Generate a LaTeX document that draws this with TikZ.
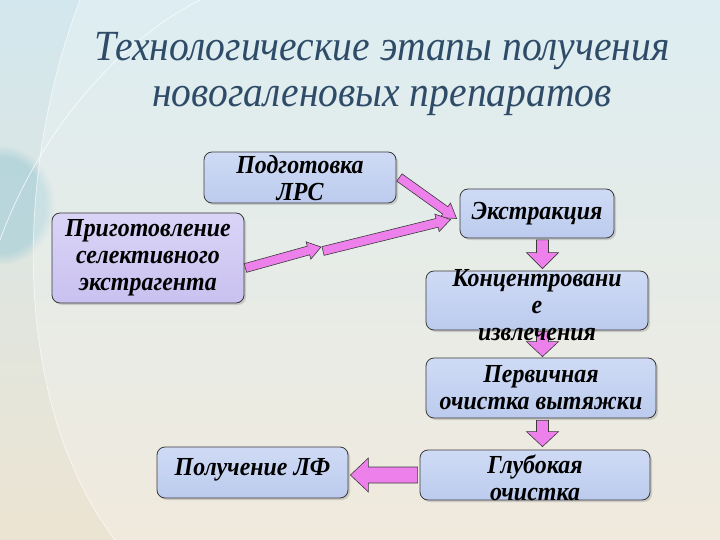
\documentclass[tikz,border=0pt]{standalone}
\usepackage{fontspec}
\setmainfont{Liberation Serif}
\newfontfamily\boxfont[FakeStretch=0.92]{Liberation Serif}
\newfontfamily\titlefont[FakeStretch=0.92]{Liberation Serif Italic}
\usetikzlibrary{calc,shadows,fadings}
\definecolor{titlec}{HTML}{2E4B68}
\definecolor{boxtop}{HTML}{CFDBF5}
\definecolor{boxbot}{HTML}{BCCBEE}
\definecolor{lavtop}{HTML}{DAD4F7}
\definecolor{lavbot}{HTML}{C9C1EF}
\definecolor{pinkarrow}{HTML}{EE80EC}
\definecolor{edgec}{HTML}{3A3A3A}
\definecolor{bgtop}{HTML}{D2E7EE}
\definecolor{bgmid}{HTML}{F3F3EE}
\definecolor{bgbot}{HTML}{ECE4D2}
\definecolor{tealc}{HTML}{8EC3D2}
\newcommand{\bkarrow}[5]{%
  \coordinate (bkh) at ($(#2)!#5!(#1)$);
  \draw[barrow] ($(#1)!#3!90:(#2)$) -- ($(bkh)!#3!-90:(#1)$) -- ($(bkh)!#4!-90:(#1)$) -- (#2) -- ($(bkh)!#4!90:(#1)$) -- ($(bkh)!#3!90:(#1)$) -- ($(#1)!#3!-90:(#2)$) -- cycle;}
\tikzset{
  stage/.style={draw=edgec, line width=0.8pt, rounded corners=8pt, top color=boxtop, bottom color=boxbot,
    drop shadow={shadow xshift=2pt, shadow yshift=-2pt, opacity=0.3}, inner sep=0pt},
  lavstage/.style={stage, top color=lavtop, bottom color=lavbot},
  stagetext/.style={align=center, inner sep=0pt, font=\fontsize{26}{27}\selectfont\boxfont\bfseries\itshape},
  titletext/.style={align=center, inner sep=0pt, text=titlec, font=\fontsize{43}{46}\selectfont\titlefont},
  barrow/.style={fill=pinkarrow, draw=edgec, line width=0.6pt, line join=miter}
}
\begin{document}
\begin{tikzpicture}[x=1pt,y=-1pt]
\useasboundingbox (0,0) rectangle (720,540);
% background
\shade[top color=bgtop, middle color=bgmid, bottom color=bgbot] (0,0) rectangle (720,540);
\fill[tealc, opacity=0.45, path fading=circle with fuzzy edge 20 percent] (0,205) ellipse (55 and 60);
\fill[white, opacity=0.25] (80,0) .. controls (15,170) and (10,400) .. (115,540) -- (720,540) -- (720,0) -- cycle;
\draw[white, line width=0.8pt, opacity=0.6] (80,0) .. controls (15,170) and (10,400) .. (115,540);
\draw[white, line width=0.8pt, opacity=0.7] (200,0) .. controls (120,40) and (40,130) .. (0,240);
% title
\node[titletext] (title) at (382,74) {Технологические этапы получения\\новогаленовых препаратов};
% boxes
\node[stage, minimum width=192, minimum height=51] (lrs) at (300,177.5) {};
\node[stage, minimum width=154, minimum height=49] (ext) at (537,213.5) {};
\node[lavstage, minimum width=192, minimum height=90] (prep) at (148,258) {};
\node[stage, minimum width=222, minimum height=59] (conc) at (537,300.5) {};
\node[stage, minimum width=230, minimum height=60] (perv) at (541,388) {};
\node[stage, minimum width=230, minimum height=50] (glub) at (535,475) {};
\node[stage, minimum width=191, minimum height=51] (pol) at (252.5,472.5) {};
% arrows
\coordinate (a1s) at ($(lrs.east)+(3,0)$);
\coordinate (a1e) at ($(ext.west)+(-3,5)$);
\bkarrow{a1s}{a1e}{4.5pt}{9pt}{14pt}
\coordinate (a2s) at ($(prep.east)+(1,10)$);
\coordinate (m1) at (321,247);
\bkarrow{a2s}{m1}{4.5pt}{9pt}{13pt}
\coordinate (m2) at (323,251);
\coordinate (a3e) at ($(ext.west)+(-9,6)$);
\bkarrow{m2}{a3e}{4.5pt}{9pt}{14pt}
\coordinate (a4s) at ($(ext.south)+(5.5,1.5)$);
\coordinate (a4e) at ($(conc.north)+(5.5,-2)$);
\bkarrow{a4s}{a4e}{6pt}{16pt}{16pt}
\coordinate (a5s) at ($(conc.south)+(5.5,1)$);
\coordinate (a5e) at ($(perv.north)+(1.5,-1)$);
\bkarrow{a5s}{a5e}{6pt}{16pt}{15pt}
\coordinate (a6s) at ($(perv.south)+(1.5,2)$);
\coordinate (a6e) at ($(glub.north)+(7.5,-3)$);
\bkarrow{a6s}{a6e}{6pt}{16pt}{15pt}
\coordinate (a7s) at ($(glub.west)+(-2,0)$);
\coordinate (a7e) at ($(pol.east)+(2,2.5)$);
\bkarrow{a7s}{a7e}{8pt}{17pt}{18pt}
% texts
\node[stagetext] (lrst) at ($(lrs.center)+(0,1)$) {Подготовка\\ЛРС};
\node[stagetext] (extt) at (ext.center) {Экстракция};
\node[stagetext] (prept) at (prep.center) {Приготовление\\селективного\\экстрагента};
\node[stagetext] (conct) at ($(conc.center)+(0,5)$) {Концентровани\\е\\извлечения};
\node[stagetext] (pervt) at (perv.center) {Первичная\\очистка вытяжки};
\node[stagetext] (glubt) at ($(glub.center)+(0,3)$) {Глубокая\\очистка};
\node[stagetext] (polt) at ($(pol.center)+(0,-3)$) {Получение ЛФ};
\end{tikzpicture}
\end{document}
